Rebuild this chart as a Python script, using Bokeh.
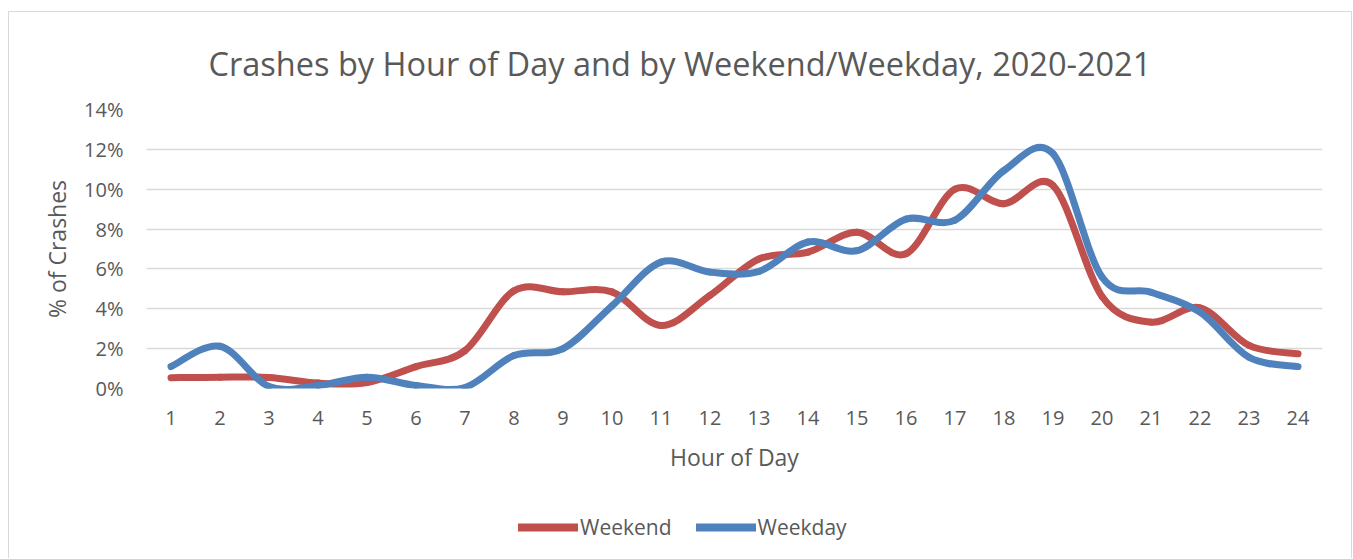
from bokeh.plotting import figure
from bokeh.layouts import column
from bokeh.models import (FixedTicker, PrintfTickFormatter, Range1d, Legend,
                          LegendItem, ColumnDataSource, Title)
from bokeh.embed import file_html
from bokeh.resources import INLINE

# ---- data (percent of crashes by hour) ----
hours = list(range(1, 25))
weekend = [0.54, 0.57, 0.55, 0.27, 0.30, 1.10, 1.90, 4.90, 4.85, 4.85, 3.16, 4.67,
           6.50, 6.84, 7.84, 6.76, 10.00, 9.27, 10.19, 4.62, 3.33, 4.05, 2.16, 1.74]
weekday = [1.10, 2.12, 0.10, 0.15, 0.57, 0.15, 0.05, 1.65, 2.00, 4.15, 6.34, 5.84,
           5.88, 7.35, 6.92, 8.50, 8.45, 10.94, 11.78, 5.59, 4.83, 3.83, 1.57, 1.10]
series_names = ["Weekend", "Weekday"]
series_colors = ["#C0504D", "#4F81BD"]
y_ticks = [0, 2, 4, 6, 8, 10, 12, 14]

TEXT = "#595959"
FONT = "Open Sans"


def smooth_segments(xs, ys):
    """Cubic Bezier segments (Catmull-Rom style, like spreadsheet smoothed lines)."""
    n = len(xs)
    d = dict(x0=[], y0=[], x1=[], y1=[], cx0=[], cy0=[], cx1=[], cy1=[])
    for i in range(n - 1):
        xp, yp = (xs[i - 1], ys[i - 1]) if i > 0 else (xs[i], ys[i])
        xn, yn = (xs[i + 2], ys[i + 2]) if i + 2 < n else (xs[i + 1], ys[i + 1])
        d["x0"].append(xs[i]); d["y0"].append(ys[i])
        d["x1"].append(xs[i + 1]); d["y1"].append(ys[i + 1])
        d["cx0"].append(xs[i] + (xs[i + 1] - xp) / 6.0)
        d["cy0"].append(ys[i] + (ys[i + 1] - yp) / 6.0)
        d["cx1"].append(xs[i + 1] - (xn - xs[i]) / 6.0)
        d["cy1"].append(ys[i + 1] - (yn - ys[i]) / 6.0)
    return ColumnDataSource(d)


OX, OY = 9, 12            # page offset of the plots (margin + 1px border)
W, H1, H2 = 1342, 468, 78
p = figure(width=W, height=H1, output_backend="svg", toolbar_location=None,
           x_range=Range1d(0.5, 24.5), y_range=Range1d(0, 14),
           min_border_left=146 - OX, min_border_right=W - (1322 - OX),
           min_border_top=109 - OY, min_border_bottom=H1 - (388 - OY))

p.title = Title(text="Crashes by Hour of Day and by Weekend/Weekday, 2020-2021",
                align="left", offset=62, text_font=FONT, text_font_size="32.5px",
                text_font_style="normal", text_color=TEXT, standoff=48)

p.outline_line_color = None
p.xgrid.grid_line_color = None
p.ygrid.ticker = FixedTicker(ticks=y_ticks)
p.ygrid.grid_line_color = "#D9D9D9"
p.ygrid.grid_line_width = 1.3

for ax in (p.xaxis[0], p.yaxis[0]):
    ax.axis_line_color = None
    ax.major_tick_line_color = None
    ax.minor_tick_line_color = None
    ax.major_label_text_color = TEXT
    ax.major_label_text_font = FONT
    ax.major_label_text_font_size = "20px"
    ax.axis_label_text_color = TEXT
    ax.axis_label_text_font = FONT
    ax.axis_label_text_font_size = "23px"
    ax.axis_label_text_font_style = "normal"

p.xaxis.ticker = FixedTicker(ticks=hours)
p.xaxis.major_label_standoff = 16
p.xaxis.axis_label = "Hour of Day"
p.xaxis.axis_label_standoff = 13

p.yaxis.ticker = FixedTicker(ticks=y_ticks)
p.yaxis.formatter = PrintfTickFormatter(format="%d%%")
p.yaxis.major_label_standoff = 17
p.yaxis.axis_label = "% of Crashes"
p.yaxis.axis_label_standoff = 8

for name, color, vals in zip(series_names, series_colors, [weekend, weekday]):
    src = smooth_segments(hours, vals)
    p.bezier(x0="x0", y0="y0", x1="x1", y1="y1", cx0="cx0", cy0="cy0",
             cx1="cx1", cy1="cy1", source=src, line_color=color,
             line_width=7, line_cap="round", line_join="round")

# ---- legend strip below the chart (its lines lie outside this strip's view) ----
q = figure(width=W, height=H2, output_backend="svg", toolbar_location=None,
           x_range=Range1d(0.5, 24.5), y_range=Range1d(100, 101),
           x_axis_location=None, y_axis_location=None,
           min_border_left=0, min_border_right=0, min_border_top=0,
           min_border_bottom=0)
q.outline_line_color = None
q.grid.grid_line_color = None

items = []
for name, color, vals in zip(series_names, series_colors, [weekend, weekday]):
    r = q.line(x=hours, y=vals, line_color=color, line_width=8, line_cap="round")
    items.append(LegendItem(label=name, renderers=[r]))

legend = Legend(items=items, orientation="horizontal", location=(372, 17),
                glyph_width=60, glyph_height=22, label_standoff=2, spacing=24,
                padding=0, margin=0, border_line_color=None,
                background_fill_alpha=0, label_text_font=FONT,
                label_text_font_size="21px", label_text_color=TEXT)
q.add_layout(legend, "center")

layout = column(p, q, spacing=0)
layout.styles = {"border-left": "1px solid #D9D9D9",
                 "border-top": "1px solid #D9D9D9",
                 "border-right": "1px solid #D9D9D9",
                 "margin-left": "8px", "margin-top": "11px"}

open("out.html", "w").write(file_html(layout, INLINE))
